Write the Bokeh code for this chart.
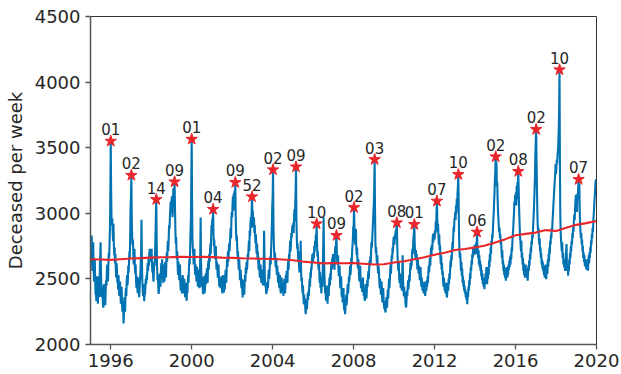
from bokeh.plotting import figure
from bokeh.models import ColumnDataSource, FixedTicker, Range1d
from bokeh.embed import file_html
from bokeh.resources import INLINE
from bokeh.core.properties import value

# Weekly number of deceased, one list of 52 weeks per year
w1995 = [2800, 2640, 2700, 2830, 2620, 2560, 2720, 2780, 2600, 2480, 2520, 2650, 2500,
         2380, 2430, 2330, 2520, 2470, 2390, 2310, 2450, 2520, 2480, 2360, 2600, 2680,
         2780, 2540, 2420, 2360, 2450, 2400, 2310, 2280, 2340, 2460, 2420, 2350, 2300,
         2410, 2490, 2450, 2550, 2610, 2560, 2480, 2620, 2700, 2660, 2780, 2880, 3150]
w1996 = [3550, 3180, 2960, 2910, 2960, 2860, 2790, 2920, 2760, 2680, 2740, 2620, 2690,
         2580, 2510, 2620, 2570, 2470, 2500, 2420, 2530, 2460, 2370, 2410, 2480, 2380,
         2310, 2340, 2440, 2300, 2250, 2330, 2270, 2160, 2240, 2360, 2300, 2250, 2390,
         2430, 2370, 2480, 2530, 2450, 2490, 2600, 2550, 2630, 2710, 2660, 2830, 3060]
w1997 = [3120, 3290, 2970, 2820, 2760, 2800, 2690, 2610, 2660, 2730, 2590, 2540, 2610,
         2490, 2430, 2520, 2470, 2390, 2450, 2510, 2430, 2360, 2410, 2480, 2530, 2620,
         2710, 2950, 2690, 2490, 2430, 2370, 2460, 2400, 2330, 2410, 2380, 2440, 2500,
         2460, 2530, 2490, 2570, 2620, 2560, 2650, 2600, 2690, 2730, 2660, 2710, 2630]
w1998 = [2690, 2730, 2610, 2550, 2620, 2510, 2480, 2570, 2630, 2600, 2710, 2830, 2970,
         3105, 2790, 2600, 2490, 2530, 2450, 2386, 2410, 2480, 2540, 2490, 2440, 2570,
         2620, 2530, 2650, 2590, 2510, 2470, 2610, 2540, 2480, 2560, 2630, 2590, 2510,
         2650, 2700, 2630, 2740, 2790, 2710, 2830, 2910, 2880, 2970, 3030, 3090, 3010]
w1999 = [3070, 3130, 3020, 2970, 3110, 3190, 3090, 3160, 3240, 3060, 2890, 2770, 2820,
         2700, 2650, 2710, 2590, 2530, 2630, 2570, 2490, 2540, 2610, 2460, 2410, 2500,
         2440, 2390, 2470, 2530, 2450, 2390, 2430, 2500, 2410, 2360, 2410, 2470, 2380,
         2333, 2420, 2390, 2480, 2530, 2470, 2590, 2650, 2610, 2730, 2860, 2970, 3260]
w2000 = [3565, 3060, 2790, 2730, 2690, 2610, 2660, 2730, 2590, 2530, 2610, 2570, 2480,
         2530, 2590, 2490, 2440, 2530, 2570, 2490, 2430, 2470, 2710, 2968, 2630, 2490,
         2440, 2510, 2460, 2384, 2450, 2520, 2470, 2390, 2420, 2490, 2540, 2460, 2510,
         2580, 2530, 2470, 2600, 2640, 2570, 2690, 2630, 2710, 2770, 2690, 2830, 2910]
w2001 = [2890, 2960, 2910, 3030, 2840, 2750, 2800, 2710, 2650, 2690, 2750, 2620, 2570,
         2630, 2590, 2510, 2550, 2610, 2490, 2440, 2510, 2480, 2430, 2470, 2520, 2450,
         2410, 2390, 2460, 2530, 2450, 2396, 2480, 2420, 2500, 2570, 2510, 2470, 2590,
         2650, 2590, 2710, 2630, 2690, 2770, 2710, 2750, 2830, 2890, 2810, 2950, 3010]
w2002 = [2970, 3070, 3130, 3020, 3150, 3090, 3171, 3120, 3235, 2990, 2850, 2790, 2830,
         2730, 2670, 2710, 2620, 2570, 2650, 2590, 2490, 2530, 2570, 2460, 2430, 2500,
         2410, 2358, 2440, 2490, 2420, 2380, 2470, 2530, 2480, 2590, 2540, 2630, 2570,
         2610, 2690, 2650, 2730, 2790, 2710, 2870, 2830, 2920, 2970, 2890, 3030, 3126]
w2003 = [2990, 3019, 2930, 2890, 2970, 2850, 2910, 2830, 2770, 2840, 2730, 2690, 2770,
         2660, 2710, 2630, 2570, 2650, 2590, 2510, 2550, 2610, 2530, 2470, 2510, 2570,
         2500, 2450, 2530, 2610, 2866, 2650, 2500, 2440, 2470, 2410, 2384, 2450, 2410,
         2480, 2430, 2520, 2570, 2500, 2550, 2630, 2670, 2610, 2730, 2810, 2910, 3060]
w2004 = [3130, 3332, 2930, 2770, 2689, 2650, 2700, 2620, 2590, 2660, 2570, 2530, 2600,
         2530, 2470, 2550, 2490, 2430, 2480, 2530, 2420, 2390, 2460, 2510, 2440, 2400,
         2470, 2410, 2371, 2450, 2500, 2430, 2390, 2470, 2530, 2480, 2560, 2510, 2470,
         2590, 2640, 2570, 2690, 2650, 2730, 2790, 2710, 2770, 2850, 2816, 2880, 2910]
w2005 = [2870, 2930, 2850, 2970, 3030, 2940, 3070, 3170, 3354, 2970, 2816, 2730, 2770,
         2690, 2630, 2710, 2590, 2550, 2630, 2570, 2790, 2570, 2480, 2510, 2430, 2390,
         2450, 2360, 2310, 2380, 2300, 2350, 2260, 2231, 2300, 2340, 2270, 2320, 2390,
         2340, 2410, 2370, 2450, 2500, 2440, 2550, 2510, 2590, 2570, 2650, 2689, 2670]
w2006 = [2630, 2700, 2660, 2750, 2710, 2790, 2750, 2840, 2800, 2920, 2770, 2670, 2710,
         2620, 2570, 2630, 2530, 2470, 2550, 2430, 2480, 2390, 2450, 2510, 2440, 2590,
         2770, 2968, 2650, 2530, 2450, 2390, 2430, 2333, 2400, 2360, 2450, 2310, 2380,
         2420, 2370, 2460, 2510, 2450, 2540, 2490, 2580, 2630, 2570, 2660, 2620, 2690]
w2007 = [2620, 2660, 2600, 2570, 2700, 2750, 2680, 2790, 2831, 2690, 2610, 2650, 2680,
         2580, 2520, 2560, 2600, 2480, 2430, 2470, 2520, 2390, 2360, 2420, 2320, 2380,
         2430, 2300, 2260, 2290, 2231, 2280, 2350, 2380, 2300, 2340, 2420, 2460, 2390,
         2450, 2520, 2480, 2540, 2600, 2530, 2580, 2660, 2610, 2700, 2750, 2800, 2900]
w2008 = [2880, 3044, 2920, 2810, 2760, 2840, 2880, 2720, 2680, 2740, 2620, 2580, 2650,
         2600, 2520, 2480, 2560, 2600, 2480, 2430, 2500, 2450, 2400, 2460, 2510, 2420,
         2370, 2410, 2350, 2333, 2400, 2460, 2380, 2350, 2420, 2490, 2440, 2520, 2560,
         2500, 2580, 2640, 2600, 2670, 2620, 2720, 2780, 2740, 2820, 2880, 2940, 3020]
w2009 = [3080, 3220, 3410, 3020, 2780, 2700, 2740, 2660, 2610, 2680, 2580, 2540, 2600,
         2560, 2480, 2430, 2500, 2450, 2380, 2420, 2480, 2360, 2320, 2390, 2430, 2340,
         2300, 2270, 2330, 2260, 2244, 2290, 2360, 2310, 2280, 2370, 2420, 2350, 2440,
         2500, 2430, 2480, 2560, 2610, 2540, 2620, 2680, 2650, 2740, 2700, 2780, 2820]
w2010 = [2790, 2760, 2840, 2800, 2870, 2830, 2900, 2928, 2780, 2660, 2600, 2560, 2630,
         2520, 2470, 2540, 2500, 2430, 2470, 2520, 2410, 2560, 2680, 2490, 2420, 2370,
         2440, 2360, 2400, 2330, 2290, 2282, 2340, 2410, 2370, 2440, 2490, 2420, 2470,
         2530, 2480, 2560, 2620, 2570, 2640, 2600, 2680, 2730, 2690, 2770, 2820, 2860]
w2011 = [2915, 2760, 2700, 2660, 2720, 2640, 2690, 2610, 2570, 2650, 2600, 2540, 2600,
         2560, 2490, 2540, 2590, 2480, 2440, 2510, 2460, 2410, 2470, 2430, 2390, 2450,
         2480, 2400, 2371, 2420, 2460, 2410, 2490, 2440, 2520, 2470, 2540, 2600, 2550,
         2610, 2660, 2600, 2690, 2740, 2680, 2760, 2720, 2800, 2840, 2780, 2850, 2820]
w2012 = [2800, 2870, 2840, 2940, 2900, 3010, 3093, 2960, 2860, 2920, 2820, 2760, 2840,
         2720, 2760, 2660, 2610, 2680, 2570, 2620, 2530, 2560, 2480, 2440, 2510, 2460,
         2410, 2450, 2390, 2470, 2420, 2380, 2358, 2430, 2470, 2410, 2500, 2460, 2540,
         2500, 2580, 2640, 2590, 2680, 2640, 2720, 2780, 2730, 2830, 2900, 2860, 2960]
w2013 = [2960, 3010, 2950, 3060, 3000, 3110, 3050, 3160, 3210, 3296, 3040, 2820, 2710,
         2660, 2700, 2610, 2560, 2630, 2520, 2580, 2470, 2520, 2440, 2490, 2410, 2450,
         2390, 2420, 2360, 2400, 2340, 2380, 2307, 2390, 2360, 2440, 2410, 2490, 2450,
         2540, 2500, 2590, 2560, 2640, 2610, 2690, 2660, 2740, 2700, 2730, 2680, 2760]
w2014 = [2710, 2760, 2690, 2780, 2730, 2857, 2760, 2710, 2660, 2720, 2610, 2680, 2590,
         2640, 2560, 2610, 2520, 2570, 2490, 2540, 2460, 2510, 2440, 2490, 2422, 2480,
         2460, 2540, 2490, 2590, 2510, 2460, 2540, 2500, 2590, 2530, 2640, 2590, 2690,
         2630, 2740, 2690, 2790, 2760, 2840, 2810, 2890, 2950, 3010, 3090, 3160, 3260]
w2015 = [3320, 3431, 3360, 3390, 3210, 3240, 3110, 3010, 2960, 2900, 2860, 2890, 2810,
         2840, 2760, 2790, 2710, 2660, 2720, 2610, 2640, 2560, 2610, 2530, 2580, 2510,
         2550, 2486, 2530, 2590, 2550, 2510, 2570, 2530, 2610, 2570, 2640, 2590, 2670,
         2610, 2690, 2650, 2740, 2710, 2790, 2840, 2880, 2950, 3000, 3090, 3060, 3140]
w2016 = [3110, 3160, 3060, 3210, 3110, 3240, 3160, 3319, 3190, 3060, 2960, 2860, 2810,
         2760, 2710, 2790, 2660, 2700, 2610, 2660, 2560, 2620, 2530, 2590, 2510, 2560,
         2610, 2530, 2580, 2510, 2560, 2486, 2530, 2600, 2560, 2640, 2600, 2690, 2650,
         2740, 2700, 2790, 2760, 2840, 2810, 2890, 2950, 3010, 3100, 3190, 3300, 3450]
w2017 = [3560, 3639, 3390, 3200, 3010, 2910, 2860, 2890, 2800, 2760, 2810, 2710, 2740,
         2660, 2700, 2610, 2650, 2580, 2630, 2560, 2600, 2530, 2580, 2510, 2560, 2610,
         2530, 2498, 2560, 2610, 2540, 2650, 2590, 2690, 2630, 2740, 2690, 2790, 2760,
         2840, 2810, 2890, 2860, 2940, 2990, 3050, 3100, 3160, 3210, 3260, 3310, 3375]
w2018 = [3300, 3350, 3410, 3380, 3450, 3477, 3540, 3640, 3800, 4094, 3380, 2990, 2850,
         2790, 2750, 2710, 2780, 2660, 2700, 2610, 2650, 2590, 2630, 2560, 2600, 2660,
         2710, 2765, 2610, 2560, 2590, 2524, 2600, 2560, 2650, 2610, 2700, 2660, 2750,
         2710, 2790, 2760, 2850, 2810, 2890, 2860, 2950, 2990, 2950, 3040, 3096, 3140]
w2019 = [3060, 3110, 3010, 3150, 3110, 3200, 3258, 3160, 3223, 3000, 2910, 2850, 2810,
         2850, 2760, 2800, 2710, 2750, 2660, 2700, 2630, 2680, 2600, 2650, 2590, 2630,
         2570, 2620, 2580, 2650, 2562, 2610, 2680, 2620, 2700, 2660, 2740, 2700, 2790,
         2760, 2840, 2810, 2890, 2860, 2950, 3000, 3050, 3110, 3150, 3210, 3250, 3260]

years = list(range(1995, 2020))
weekly = [w1995, w1996, w1997, w1998, w1999, w2000, w2001, w2002, w2003, w2004,
          w2005, w2006, w2007, w2008, w2009, w2010, w2011, w2012, w2013, w2014,
          w2015, w2016, w2017, w2018, w2019]

# Highest week of each winter season (year, ISO week)
peak_years = [1996, 1997, 1998, 1999, 2000, 2001, 2002, 2002, 2004, 2005, 2006, 2007,
              2008, 2009, 2010, 2011, 2012, 2013, 2014, 2015, 2016, 2017, 2018, 2019]
peak_weeks = [1, 2, 14, 9, 1, 4, 9, 52, 2, 9, 10, 9,
              2, 3, 8, 1, 7, 10, 6, 2, 8, 2, 10, 7]

# Smoothed long-term level, every half year from 1995 to 2020
trend_values = [2650, 2648, 2645, 2650, 2655, 2658, 2662, 2665, 2666, 2668, 2667, 2668,
                2666, 2662, 2660, 2657, 2655, 2654, 2652, 2648, 2642, 2632, 2625, 2618,
                2620, 2619, 2620, 2616, 2610, 2612, 2625, 2635, 2650, 2665, 2684, 2700,
                2720, 2728, 2740, 2755, 2777, 2803, 2833, 2843, 2853, 2872, 2865, 2890,
                2912, 2925, 2942]

x_ticks = [1996, 2000, 2004, 2008, 2012, 2016, 2020]
y_ticks = [2000, 2500, 3000, 3500, 4000, 4500]

FONT = "DejaVu Sans"
TEXT = "#262626"
BLUE = "#0173b2"
RED = "#e8262b"


def week_pos(year, week):
    return year + (week - 1) / 52.0


t, deaths = [], []
for yr, vals in zip(years, weekly):
    for i, v in enumerate(vals):
        t.append(week_pos(yr, i + 1))
        deaths.append(v)

peak_x = [week_pos(yr, wk) for yr, wk in zip(peak_years, peak_weeks)]
peak_y = [weekly[yr - years[0]][wk - 1] for yr, wk in zip(peak_years, peak_weeks)]
peak_txt = ["%02d" % wk for wk in peak_weeks]

trend_x = [1995 + 0.5 * i for i in range(len(trend_values))]

p = figure(width=621, height=374, output_backend="svg", toolbar_location=None,
           x_range=Range1d(1995, 2020), y_range=Range1d(2000, 4500),
           min_border_left=90, min_border_right=25, min_border_top=16,
           min_border_bottom=30)

p.line(t, deaths, line_color=BLUE, line_width=2.1)
p.line(trend_x, trend_values, line_color=RED, line_width=2.1)

peaks = ColumnDataSource(dict(x=peak_x, y=peak_y, txt=peak_txt))
p.scatter("x", "y", source=peaks, marker="star", size=12,
          fill_color=RED, line_color=RED)
p.text("x", "y", text="txt", source=peaks, text_align="center",
       text_baseline="alphabetic", y_offset=-12, text_font_size="15px",
       text_color=TEXT, text_font=value(FONT))

p.xgrid.visible = False
p.ygrid.visible = False
p.outline_line_color = "#333333"
p.outline_line_width = 1

p.xaxis.ticker = FixedTicker(ticks=x_ticks)
p.yaxis.ticker = FixedTicker(ticks=y_ticks)
p.yaxis.axis_label = "Deceased per week"

for ax in (p.xaxis, p.yaxis):
    ax.axis_line_color = "#555555"
    ax.axis_line_width = 1.5
    ax.major_tick_line_color = "#555555"
    ax.major_tick_line_width = 1.3
    ax.major_tick_out = 5
    ax.major_tick_in = 0
    ax.minor_tick_line_color = None
    ax.major_label_text_font = FONT
    ax.major_label_text_font_size = "18px"
    ax.major_label_text_color = TEXT
    ax.axis_label_text_font = FONT
    ax.axis_label_text_font_size = "18px"
    ax.axis_label_text_font_style = "normal"
    ax.axis_label_text_color = TEXT

p.xaxis.major_label_standoff = 4
p.yaxis.major_label_standoff = 5
p.yaxis.axis_label_standoff = 6

open("out.html", "w").write(file_html(p, INLINE))
